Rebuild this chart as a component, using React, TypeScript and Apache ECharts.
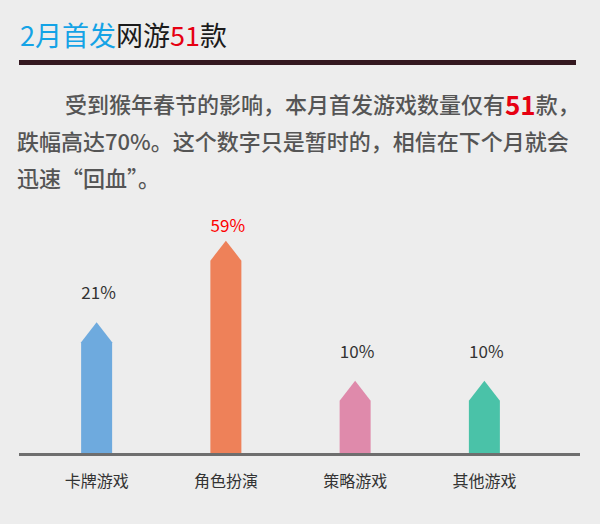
import { useEffect, useRef } from 'react'
import * as echarts from 'echarts'

const categories = ['卡牌游戏', '角色扮演', '策略游戏', '其他游戏']
const shares = [21, 59, 10, 10]
const shareLabels = ['21%', '59%', '10%', '10%']

const barColors = ['#6eaade', '#ee8159', '#df8aab', '#4ac2a8']
const labelColors = ['#333333', '#ff0000', '#333333', '#333333']
const labelGaps = [31, 16, 30, 30]

const FONT = '"Noto Sans CJK SC", "Microsoft YaHei", sans-serif'
const AXIS_MIN = 4

export default function App() {
  const chartRef = useRef<HTMLDivElement>(null)

  useEffect(() => {
    document.body.style.margin = '0'
    if (!chartRef.current) return
    const chart = echarts.init(chartRef.current, undefined, { renderer: 'svg' })

    const paraStyle = { fontSize: 22, fontWeight: 500, fill: '#555555', fontFamily: FONT }

    chart.setOption({
      animation: false,
      backgroundColor: '#ededed',
      grid: { left: 32, right: 51, top: 199, bottom: 71 },
      xAxis: {
        type: 'category',
        data: categories,
        axisLine: { show: false },
        axisTick: { show: false },
        axisLabel: { margin: 19, fontSize: 16, color: '#333', fontFamily: FONT }
      },
      yAxis: {
        type: 'log',
        logBase: 10,
        min: AXIS_MIN,
        max: 100,
        show: false
      },
      series: [
        {
          type: 'custom',
          data: shares.map((v, i) => [i, v]),
          encode: { x: 0, y: 1 },
          renderItem: (params: any, api: any) => {
            const i = api.value(0)
            const top = api.coord([i, api.value(1)])
            const base = api.coord([i, AXIS_MIN])
            const hw = 15.5
            const tip = 20
            const x = top[0]
            return {
              type: 'group',
              children: [
                {
                  type: 'polygon',
                  shape: {
                    points: [
                      [x - hw, base[1]],
                      [x - hw, top[1] + tip],
                      [x, top[1]],
                      [x + hw, top[1] + tip],
                      [x + hw, base[1]]
                    ]
                  },
                  style: { fill: barColors[i] }
                },
                {
                  type: 'text',
                  x: x + 2,
                  y: top[1] - labelGaps[i],
                  style: {
                    text: shareLabels[i],
                    fill: labelColors[i],
                    fontSize: 17,
                    fontFamily: FONT,
                    align: 'center',
                    verticalAlign: 'middle'
                  }
                }
              ]
            }
          }
        }
      ],
      graphic: [
        {
          type: 'text',
          x: 20,
          y: 34,
          style: {
            text: '{b|2月首发}{k|网游}{r|51}{k|款}',
            verticalAlign: 'middle',
            rich: {
              b: { fontSize: 27, fill: '#14a3e6', fontFamily: FONT },
              k: { fontSize: 27, fill: '#1b1b1b', fontFamily: FONT },
              r: { fontSize: 27, fill: '#e60012', fontFamily: FONT }
            }
          }
        },
        {
          type: 'rect',
          shape: { x: 19, y: 60, width: 557, height: 5 },
          style: { fill: '#341820' }
        },
        {
          type: 'text',
          x: 65,
          y: 103,
          style: {
            text: '{a|受到猴年春节的影响，本月首发游戏数量仅有}{r|51}{a|款，}',
            verticalAlign: 'middle',
            rich: {
              a: paraStyle,
              r: { fontSize: 26, fontWeight: 'bold', fill: '#e60012', fontFamily: FONT }
            }
          }
        },
        {
          type: 'text',
          x: 17,
          y: 140,
          style: { text: '跌幅高达70%。这个数字只是暂时的，相信在下个月就会', verticalAlign: 'middle', ...paraStyle }
        },
        {
          type: 'text',
          x: 17,
          y: 177,
          style: { text: '迅速“回血”。', verticalAlign: 'middle', ...paraStyle }
        },
        {
          type: 'line',
          shape: { x1: 19, y1: 454.5, x2: 580, y2: 454.5 },
          style: { stroke: '#6e6e6e', lineWidth: 3 }
        }
      ]
    })

    return () => {
      chart.dispose()
    }
  }, [])

  return <div ref={chartRef} style={{ width: 600, height: 524 }} />
}
